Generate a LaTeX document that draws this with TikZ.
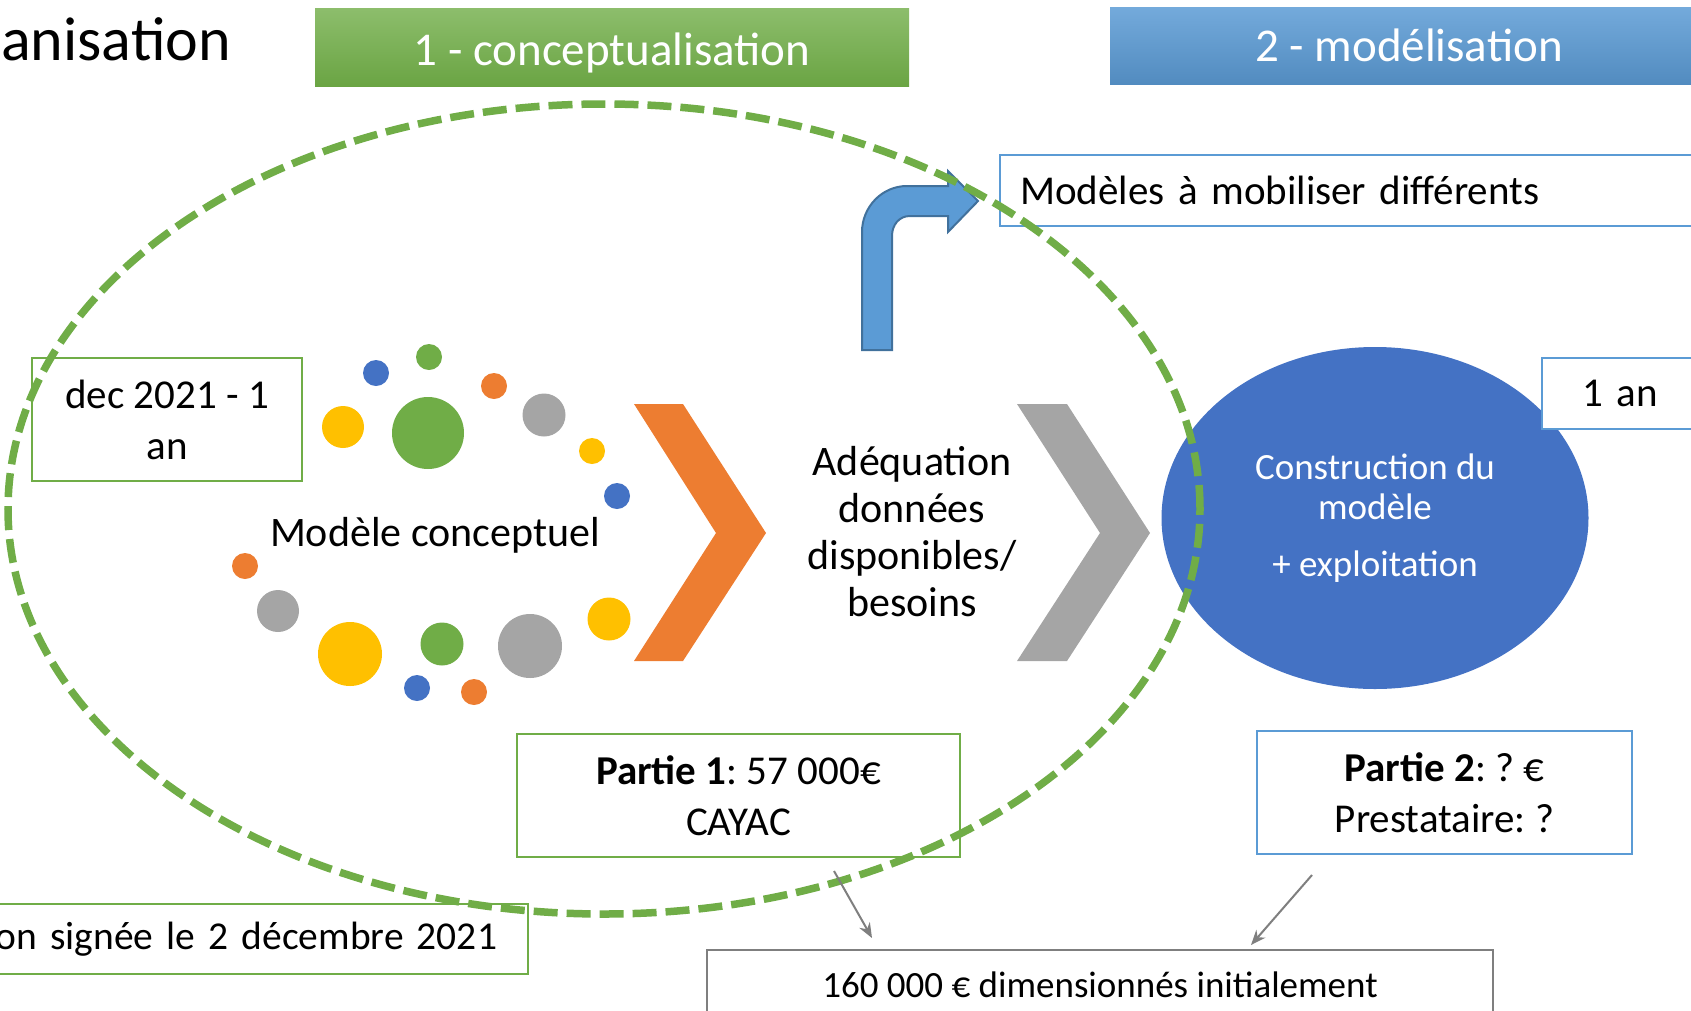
\documentclass[tikz,border=0pt]{standalone}
\usepackage{fontspec}
\setmainfont{Carlito}
\usetikzlibrary{shapes.geometric,arrows.meta}
\definecolor{vert}{HTML}{70AD47}
\definecolor{bleu}{HTML}{4472C4}
\definecolor{bleuclair}{HTML}{5B9BD5}
\definecolor{bleubord}{HTML}{41719C}
\definecolor{orange}{HTML}{ED7D31}
\definecolor{gris}{HTML}{A5A5A5}
\definecolor{grisfonce}{HTML}{7F7F7F}
\definecolor{jaune}{HTML}{FFC000}
\frenchspacing
\begin{document}
\begin{tikzpicture}
         [x=1pt, y=-1pt,
          cadre/.style={draw, line width=2pt, inner sep=0pt, align=center, font=\fontsize{41}{51}\selectfont},
          cadrevert/.style={cadre, draw=vert},
          cadrebleu/.style={cadre, draw=bleuclair},
          bandeau/.style={inner sep=0pt, text=white, font=\fontsize{47}{56}\selectfont},
          texte/.style={align=center, font=\fontsize{42}{47}\selectfont},
          fleche/.style={draw=grisfonce, line width=2pt, -{Stealth[length=15pt,width=12pt]}}]
         \useasboundingbox (0,0) rectangle (1691,1010);

         % titres
         \node[anchor=base west, inner sep=0pt, font=\fontsize{62}{72}\selectfont] (titre) at (1,60) {anisation};
         \node[bandeau, top color=vert!80!white, bottom color=vert!95!black, minimum width=594pt, minimum height=78pt, text depth=0pt] (phase1) at (612,47) {\raisebox{-4pt}{1 - conceptualisation}};
         \node[bandeau, top color=bleuclair!85!white, bottom color=bleuclair!90!black, minimum width=598pt, minimum height=77pt] (phase2) at (1409,45.5) {2 - modélisation};

         % points du modele conceptuel
         \fill[bleu] (376,373) circle (13pt);
         \fill[vert] (429,357) circle (13pt);
         \fill[orange] (494,386) circle (13pt);
         \fill[jaune] (343,427) circle (21pt);
         \fill[vert] (428,433) circle (36pt);
         \fill[gris] (544,415) circle (21.5pt);
         \fill[jaune] (592,451) circle (13pt);
         \fill[bleu] (617,496) circle (13pt);
         \fill[orange] (245,566) circle (13pt);
         \fill[gris] (278,611) circle (21pt);
         \fill[jaune] (350,654) circle (32pt);
         \fill[vert] (442,644) circle (21.5pt);
         \fill[gris] (530,646) circle (32pt);
         \fill[jaune] (609,619) circle (21.5pt);
         \fill[bleu] (417,688) circle (13pt);
         \fill[orange] (474,692) circle (13pt);
         \node[texte] (modconc) at (435,535) {Modèle conceptuel};

         % chevrons
         \fill[orange] (634,404) -- (683,404) -- (766,533) -- (683,661) -- (634,661) -- (716,533) -- cycle;
         \fill[gris] (1017,404) -- (1067,404) -- (1150,533) -- (1067,661) -- (1017,661) -- (1100,533) -- cycle;
         \node[texte] (adequation) at (912,532) {Adéquation\\données\\disponibles/\\besoins};

         % fleche coudee
         \filldraw[fill=bleuclair, draw=bleubord, line width=2pt, line join=miter]
            (862,350) -- (862,232) .. controls (862,207) and (882,186) .. (907,186)
            -- (948,186) -- (948,171) -- (978,201) -- (948,232) -- (948,216) -- (910,216)
            .. controls (899,216) and (892,225) .. (892,236) -- (892,350) -- cycle;
         \node[cadrebleu, anchor=west, inner xsep=20pt, minimum height=71pt, text width=661pt, align=left] (modeles) at (999,190.5) {Modèles à mobiliser différents};

         % phase 2
         \node[ellipse, fill=bleu, inner sep=0pt, minimum width=427pt, minimum height=342pt, text=white, align=center, font=\fontsize{37}{40}\selectfont] (constr) at (1375,518) {Construction du\\modèle\\[17pt]+ exploitation};
         \node[cadrebleu, fill=white, anchor=west, inner xsep=40pt, minimum height=71pt, text width=120pt, align=left] (duree2) at (1541,393.5) {1 an};

         % boites
         \node[cadrevert, minimum width=270pt, minimum height=123pt] (duree1) at (167,419.5) {dec 2021 - 1\\an};
         \node[cadrevert, minimum width=443pt, minimum height=123pt] (partie1) at (738.5,795.5) {\textbf{Partie 1}: 57 000€\\CAYAC};
         \node[cadrebleu, minimum width=375pt, minimum height=123pt] (partie2) at (1444.5,792.5) {\textbf{Partie 2}: ? €\\Prestataire: ?};
         \node[cadrevert, minimum height=70pt, inner xsep=31pt, text width=530pt, align=right, font=\fontsize{39.5}{48}\selectfont] (convention) at (232,939) {on signée le 2 décembre 2021};
         \node[cadre, draw=grisfonce, minimum width=786pt, minimum height=70pt, font=\fontsize{37}{44}\selectfont] (total) at (1100,985) {160 000 € dimensionnés initialement};

         % ellipse en pointilles
         \draw[vert, line width=7.5pt, dash pattern=on 24pt off 9pt] (604,509) ellipse [x radius=596pt, y radius=405pt];

         % fleches vers le total
         \coordinate (p1bas) at (834,871);
         \coordinate (p2bas) at (1312,875);
         \coordinate (totg) at (872,938);
         \coordinate (totd) at (1251,945);
         \draw[fleche] (p1bas) -- (totg);
         \draw[fleche] (p2bas) -- (totd);
\end{tikzpicture}
\end{document}
